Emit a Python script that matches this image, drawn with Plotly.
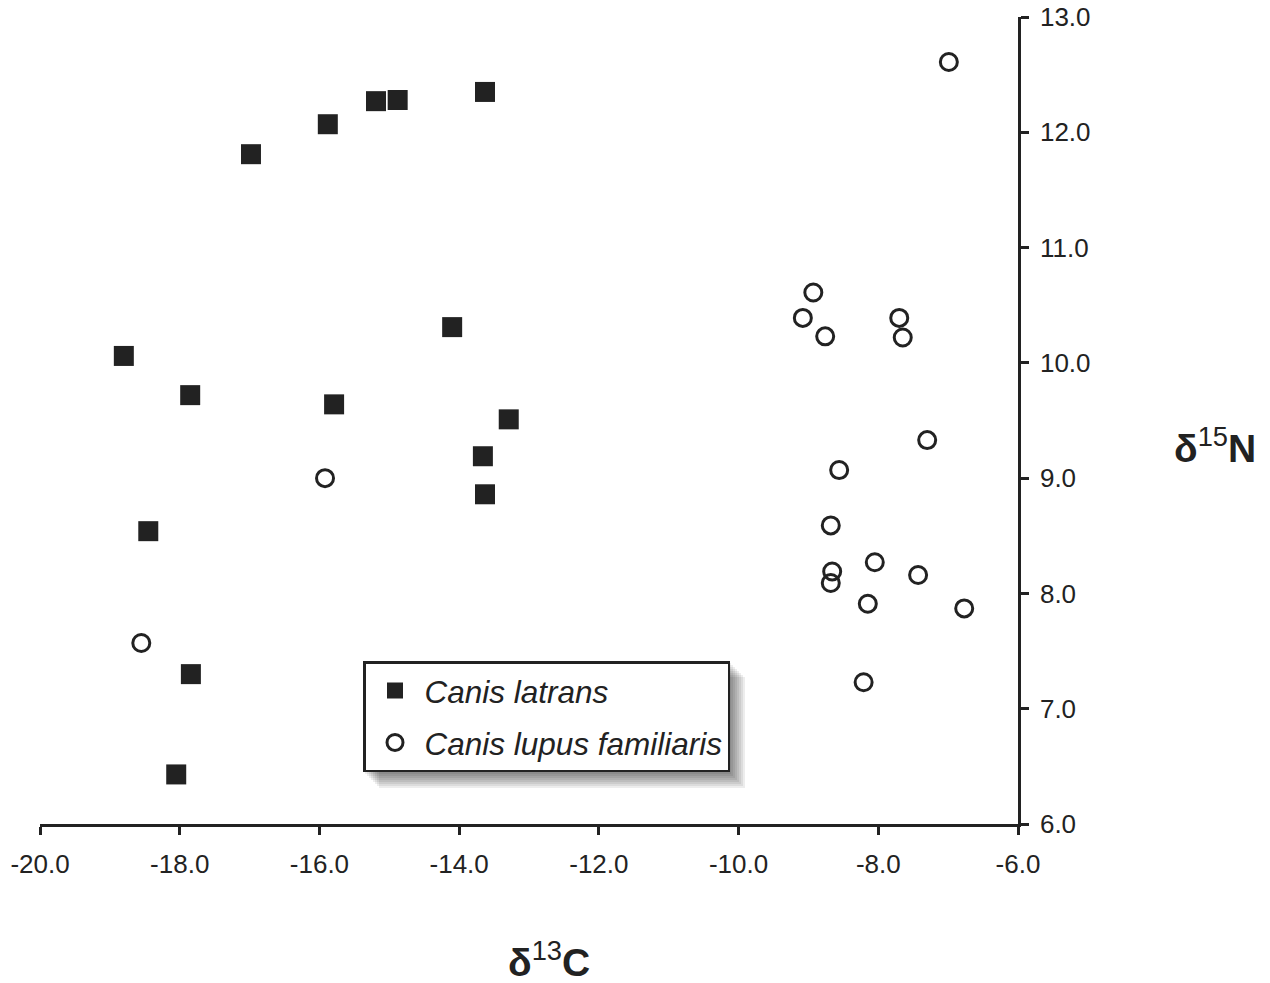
import plotly.graph_objects as go

latrans_c13 = [-16.98, -15.88, -15.19, -14.88, -13.63, -14.10, -18.80, -17.85, -15.79, -13.29, -13.66, -13.63, -18.45, -17.84, -18.05]
latrans_n15 = [11.81, 12.07, 12.27, 12.28, 12.35, 10.31, 10.06, 9.72, 9.64, 9.51, 9.19, 8.86, 8.54, 7.30, 6.43]

familiaris_c13 = [-6.99, -8.93, -9.08, -8.76, -7.70, -7.65, -7.30, -8.56, -15.92, -8.68, -8.05, -8.66, -8.68, -7.43, -8.15, -6.77, -18.55, -8.21]
familiaris_n15 = [12.61, 10.61, 10.39, 10.23, 10.39, 10.22, 9.33, 9.07, 9.00, 8.59, 8.27, 8.19, 8.09, 8.16, 7.91, 7.87, 7.57, 7.23]

x_ticks = [-20, -18, -16, -14, -12, -10, -8, -6]
y_ticks = [6, 7, 8, 9, 10, 11, 12, 13]

INK = "#222222"
FONT = "Arial, Liberation Sans, sans-serif"

# target page geometry (page body has an 8px margin)
OFF = 8
W, H = 1270 - OFF, 983 - OFF
PL, PR, PT, PB = 40, 1018, 17, 824          # plot area in page pixels
ML, MR, MT, MB = PL - OFF, 1270 - PR, PT - OFF, 983 - PB
PW, PH = PR - PL, PB - PT


def px(xp):
    return (xp - PL) / PW


def py(yp):
    return (PB - yp) / PH


fig = go.Figure()
fig.add_trace(go.Scatter(
    x=latrans_c13, y=latrans_n15, mode="markers", name="Canis latrans",
    legendgroup="a",
    marker=dict(symbol="square", size=20, color=INK, line=dict(width=0)),
))
fig.add_trace(go.Scatter(
    x=familiaris_c13, y=familiaris_n15, mode="markers", name="Canis lupus familiaris",
    legendgroup="b",
    marker=dict(symbol="circle-open", size=17, color=INK, line=dict(width=3, color=INK)),
))

# legend box target (page pixels)
LX0, LY0, LX1, LY1 = 363, 661, 736, 769

fig.update_layout(
    width=W, height=H,
    margin=dict(l=ML, r=MR, t=MT, b=MB, autoexpand=False),
    paper_bgcolor="white", plot_bgcolor="white",
    font=dict(family=FONT, color=INK, size=26),
    showlegend=True,
    legend=dict(
        x=px(LX0), y=py(LY0), xanchor="left", yanchor="top",
        bgcolor="white", bordercolor=INK, borderwidth=2.5,
        font=dict(family=FONT, size=31.5, color=INK, style="italic"),
        traceorder="grouped", tracegroupgap=8,
        itemsizing="trace", itemwidth=49,
    ),
    xaxis=dict(
        range=[-20, -6], tickvals=x_ticks, ticktext=[f"{v:.1f}" for v in x_ticks],
        showgrid=False, zeroline=False, showline=True, linecolor=INK, linewidth=2.5,
        ticks="outside", ticklen=8, tickwidth=2.5, tickcolor=INK,
        tickfont=dict(size=26, family=FONT, color=INK), automargin=False,
        ticklabelstandoff=7, ticklabeloverflow="allow",
    ),
    yaxis=dict(
        range=[6, 13], tickvals=y_ticks, ticktext=[f"{v:.1f}" for v in y_ticks],
        side="right",
        showgrid=False, zeroline=False, showline=True, linecolor=INK, linewidth=2.5,
        ticks="outside", ticklen=8, tickwidth=2.5, tickcolor=INK,
        tickfont=dict(size=26, family=FONT, color=INK), automargin=False,
        ticklabelstandoff=6, ticklabeloverflow="allow",
    ),
    annotations=[
        dict(text="<b>δ</b><sup>13</sup><b>C</b>", xref="paper", yref="paper",
             x=px(549), y=py(959),
             xanchor="center", yanchor="middle", showarrow=False,
             font=dict(size=39, family=FONT, color=INK)),
        dict(text="<b>δ</b><sup>15</sup><b>N</b>", xref="paper", yref="paper",
             x=px(1215), y=py(445),
             xanchor="center", yanchor="middle", showarrow=False,
             font=dict(size=39, family=FONT, color=INK)),
    ],
)

# soft drop shadow behind the legend box
shapes = []
for off in range(2, 18, 2):
    shapes.append(dict(type="rect", xref="paper", yref="paper",
                       x0=px(LX0 + off), x1=px(LX1 - 7 + off),
                       y0=py(LY1 + 3 + off), y1=py(LY0 + off),
                       fillcolor="rgba(0,0,0,0.07)", line=dict(width=0), layer="above"))
fig.update_layout(shapes=shapes)

fig.write_html("out.html")
